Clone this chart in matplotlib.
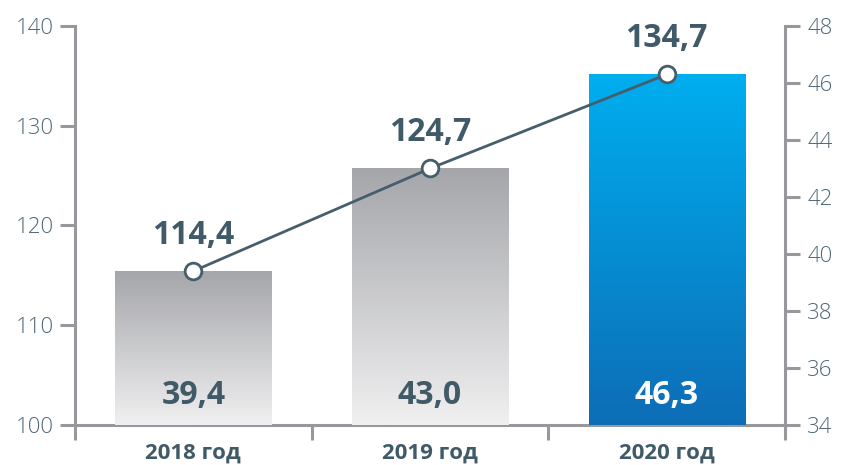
import numpy as np
import matplotlib.pyplot as plt
from matplotlib.colors import LinearSegmentedColormap
from matplotlib import transforms

years = ["2018 год", "2019 год", "2020 год"]
top_labels = ["114,4", "124,7", "134,7"]
line_vals = [39.4, 43.0, 46.3]
inner_labels = ["39,4", "43,0", "46,3"]
left_ticks = [100, 110, 120, 130, 140]
right_ticks = [34, 36, 38, 40, 42, 44, 46, 48]

axis_col = "#98989c"
text_col = "#405a68"
line_col = "#465e6c"

plt.rcParams['font.family'] = ['Open Sans', 'DejaVu Sans']

fig = plt.figure(figsize=(8.41, 4.65), dpi=100)
ax = fig.add_axes([75 / 841, 1 - 425 / 465, 710 / 841, 399 / 465])
ax2 = ax.twinx()

x = np.arange(len(years))
ax.set_xlim(-0.5, 2.5)
ax.set_ylim(100, 140)
ax2.set_ylim(34, 48)

grey = LinearSegmentedColormap.from_list("grey", ["#f0f0f1", "#a5a6aa"])
blue = LinearSegmentedColormap.from_list("blue", ["#0d6db6", "#00aeef"])
cmaps = [grey, grey, blue]

bars = ax2.bar(x, line_vals, width=0.66, color="none", edgecolor="none", zorder=1)
grad = np.linspace(0, 1, 256).reshape(-1, 1)
for b, cm in zip(bars, cmaps):
    x0 = b.get_x()
    x1 = x0 + b.get_width()
    im = ax2.imshow(grad, cmap=cm, origin="lower", aspect="auto",
                    extent=(x0, x1, 34, b.get_height()), zorder=1)
    im.set_clip_path(b)
ax.set_xlim(-0.5, 2.5)
ax2.set_ylim(34, 48)

ax2.plot(x, line_vals, color=line_col, lw=2, marker="o", ms=12,
         mfc="white", mec=line_col, mew=2, zorder=3)

for xi, v, t in zip(x, line_vals, top_labels):
    ax2.annotate(t, (xi, v), xytext=(0, 14), textcoords="offset points",
                 ha="center", va="bottom", fontsize=23, fontweight="bold",
                 color=text_col, zorder=4)

trans = transforms.blended_transform_factory(ax2.transData, ax2.transAxes)
for xi, t, c in zip(x, inner_labels, [text_col, text_col, "white"]):
    ax2.text(xi, 0.075, t, transform=trans, ha="center", va="center",
             fontsize=23, fontweight="bold", color=c, zorder=4)

# spines
for s in ["top", "right"]:
    ax.spines[s].set_visible(False)
for s in ["top", "left", "bottom"]:
    ax2.spines[s].set_visible(False)
ax.spines["left"].set_color(axis_col)
ax.spines["bottom"].set_color(axis_col)
ax2.spines["right"].set_color(axis_col)
for sp in [ax.spines["left"], ax.spines["bottom"], ax2.spines["right"]]:
    sp.set_linewidth(2.2)

ax.set_yticks(left_ticks)
ax.tick_params(axis="y", length=11, width=2.2, color=axis_col, pad=4,
               labelsize=16, labelcolor="#4f6877")
ax2.set_yticks(right_ticks)
ax2.tick_params(axis="y", length=11, width=2.2, color=axis_col, pad=5,
                labelsize=16, labelcolor="#4f6877")

ax.set_xticks(x)
ax.set_xticklabels(years, fontsize=16, fontweight="bold", color=text_col)
ax.tick_params(axis="x", which="major", length=0, pad=13)
ax.set_xticks([-0.5, 0.5, 1.5, 2.5], minor=True)
ax.tick_params(axis="x", which="minor", length=11, width=2.2, color=axis_col)

for lab in ax.get_yticklabels() + ax2.get_yticklabels():
    lab.set_fontweight("light")

fig.savefig("out.png", dpi=100)
